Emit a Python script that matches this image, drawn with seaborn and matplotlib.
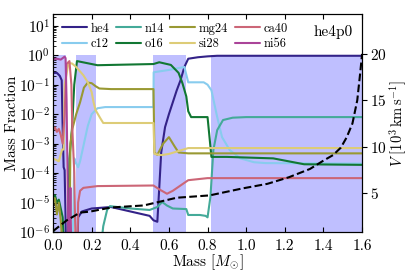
import numpy as np
import pandas as pd
import matplotlib
matplotlib.use("Agg")
import matplotlib.pyplot as plt
import seaborn as sns

# mass coordinate [M_sun] and log10(mass fraction)
he4_m = [0.0, 0.02, 0.035, 0.045, 0.05, 0.055, 0.06, 0.065, 0.068, 0.125, 0.13, 0.15, 0.2,
         0.3, 0.4, 0.5, 0.52, 0.54, 0.55, 0.56, 0.58, 0.6, 0.62, 0.64, 0.66, 0.68, 0.7,
         0.75, 0.8, 0.85, 1.6]
he4_l = [-0.6, -0.6, -0.7, -0.85, -2.5, -3.8, -3.9, -5.5, -7.0, -7.0, -5.5, -5.3, -5.2,
         -5.15, -5.3, -5.45, -5.6, -5.65, -4.5, -3.3, -2.44, -2.0, -1.6, -1.2, -0.85, -0.4,
         -0.12, -0.07, -0.04, -0.02, -0.02]

c12_m = [0.0, 0.1, 0.11, 0.115, 0.13, 0.14, 0.16, 0.18, 0.2, 0.23, 0.27, 0.52, 0.521,
         0.6, 0.68, 0.70, 0.78, 0.8, 0.82, 0.85, 0.875, 0.915, 0.97, 1.04, 1.1, 1.6]
c12_l = [-7.0, -7.0, -3.5, -3.6, -3.8, -3.6, -3.0, -2.4, -2.0, -1.8, -1.76, -1.76, -0.58,
         -0.5, -0.4, -0.92, -0.92, -1.0, -1.19, -2.1, -2.78, -3.22, -3.5, -3.63, -3.66, -3.68]

n14_m = [0.0, 0.005, 0.01, 0.24, 0.26, 0.28, 0.295, 0.4, 0.5, 0.52, 0.54, 0.565, 0.59,
         0.62, 0.69, 0.7, 0.76, 0.79, 0.80, 0.815, 0.83, 0.85, 0.88, 0.93, 1.0, 1.6]
n14_l = [-5.9, -6.1, -7.0, -7.0, -5.8, -5.25, -5.12, -5.2, -5.25, -5.2, -5.15, -4.98, -5.1,
         -5.2, -5.22, -5.42, -5.42, -5.45, -5.5, -4.8, -3.22, -2.54, -2.2, -2.12, -2.1, -2.1]

o16_m = [0.0, 0.01, 0.02, 0.03, 0.04, 0.05, 0.06, 0.075, 0.085, 0.098, 0.11, 0.124,
         0.23, 0.52, 0.55, 0.61, 0.65, 0.67, 0.69, 0.70, 0.715, 0.80, 0.82, 0.9, 1.14,
         1.3, 1.6]
o16_l = [-4.8, -4.75, -5.0, -4.9, -5.2, -5.5, -7.0, -7.0, -3.5, -2.5, -1.0, -0.2,
         -0.34, -0.3, -0.24, -0.33, -0.6, -0.95, -1.4, -1.9, -2.1, -2.1, -3.45, -3.45, -3.5,
         -3.7, -3.72]

mg24_m = [0.0, 0.01, 0.02, 0.03, 0.04, 0.05, 0.06, 0.085, 0.09, 0.1, 0.12, 0.14, 0.16,
          0.18, 0.2, 0.22, 0.24, 0.3, 0.52, 0.525, 0.54, 0.57, 0.60, 0.63, 0.65, 0.7, 1.6]
mg24_l = [-5.0, -4.85, -5.4, -5.0, -5.6, -6.5, -7.0, -7.0, -3.0, -2.5, -2.0, -1.6, -1.1,
          -0.93, -0.95, -1.05, -1.13, -1.15, -1.15, -3.3, -3.38, -3.0, -2.78, -3.1, -3.3,
          -3.33, -3.33]

si28_m = [0.0, 0.03, 0.047, 0.055, 0.06, 0.08, 0.098, 0.12, 0.157, 0.18, 0.2, 0.21,
          0.22, 0.245, 0.26, 0.52, 0.525, 0.56, 0.6, 0.65, 0.7, 1.6]
si28_l = [-3.5, -3.6, -3.2, -3.2, -1.0, -0.27, -0.28, -0.4, -0.68, -0.92, -1.25, -1.6,
          -1.86, -2.14, -2.3, -2.3, -3.35, -3.39, -3.35, -3.25, -3.15, -3.15]

ca40_m = [0.0, 0.01, 0.02, 0.03, 0.04, 0.05, 0.06, 0.07, 0.085, 0.095, 0.1, 0.11, 0.118,
          0.125, 0.13, 0.14, 0.157, 0.23, 0.52, 0.55, 0.59, 0.62, 0.66, 0.7, 0.8, 1.6]
ca40_l = [-2.55, -2.45, -2.6, -2.5, -2.7, -3.0, -2.0, -0.3, -0.2, -1.0, -2.5, -4.0, -7.0,
          -7.0, -5.0, -4.6, -4.5, -4.44, -4.42, -4.55, -4.7, -4.6, -4.42, -4.24, -4.17,
          -4.17]

ni56_m = [0.0, 0.02, 0.04, 0.06, 0.065, 0.07, 0.075, 0.08, 0.085, 0.09, 0.095, 1.6]
ni56_l = [-0.15, -0.12, -0.15, -0.05, -0.1, -1.5, -4.0, -7.0, -7.0, -4.5, -7.0, -7.0]

# velocity profile [10^3 km/s]
vel_m = [0.0, 0.07, 0.14, 0.19, 0.3, 0.47, 0.64, 0.81, 0.98, 1.11, 1.22, 1.33, 1.40,
         1.45, 1.49, 1.52, 1.55, 1.575, 1.59, 1.6]
vel_v = [0.9, 2.05, 2.9, 3.0, 3.45, 3.67, 4.5, 4.75, 5.5, 6.0, 6.7, 7.6, 8.5, 9.1, 9.9,
         11.0, 12.5, 15.0, 17.9, 20.0]

# burning regions (shaded)
span_lo = [0.0, 0.12, 0.52, 0.82]
span_hi = [0.065, 0.22, 0.69, 1.6]

species = ["he4", "c12", "n14", "o16", "mg24", "si28", "ca40", "ni56"]
colors = ["#332288", "#88CCEE", "#44AA99", "#117733",
          "#999933", "#DDCC77", "#CC6677", "#AA4499"]
profiles = {
    "he4": (he4_m, he4_l), "c12": (c12_m, c12_l), "n14": (n14_m, n14_l),
    "o16": (o16_m, o16_l), "mg24": (mg24_m, mg24_l), "si28": (si28_m, si28_l),
    "ca40": (ca40_m, ca40_l), "ni56": (ni56_m, ni56_l),
}

frames = []
for name in species:
    m, l = profiles[name]
    frames.append(pd.DataFrame({"mass": m, "X": 10.0 ** np.array(l), "species": name}))
df = pd.concat(frames, ignore_index=True)

sns.set_style("ticks")
plt.rcParams["font.family"] = "serif"
plt.rcParams["font.serif"] = ["cmr10", "DejaVu Serif"]
plt.rcParams["mathtext.fontset"] = "cm"
plt.rcParams["axes.formatter.use_mathtext"] = True
plt.rcParams["axes.unicode_minus"] = False
for key in ["text.color", "axes.labelcolor", "xtick.color", "ytick.color", "axes.edgecolor"]:
    plt.rcParams[key] = "black"

fig = plt.figure(figsize=(4.11, 2.74), dpi=100)
ax = fig.add_axes([0.129, 0.153, 0.752, 0.796])

for lo, hi in zip(span_lo, span_hi):
    ax.fill_between([lo, hi], 1e-7, 1.0, color="#0000FF", alpha=0.25, lw=0, zorder=0)

sns.lineplot(data=df, x="mass", y="X", hue="species", hue_order=species,
             palette=colors, estimator=None, sort=False, lw=1.5, ax=ax)
ax.set_yscale("log")
ax.set_xlim(0, 1.6)
ax.set_ylim(1e-6, 25)
ax.set_xlabel(r"Mass [$M_{\odot}$]", fontsize=11, labelpad=-1)
ax.set_ylabel("Mass Fraction", fontsize=11, labelpad=0)
ax.tick_params(axis="both", which="both", direction="in", top=True, labelsize=11)
ax.tick_params(axis="y", which="both", right=False, pad=2)
ax.tick_params(axis="x", pad=5.5)
ax.set_xticks([0.0, 0.2, 0.4, 0.6, 0.8, 1.0, 1.2, 1.4, 1.6])
ax.set_xticklabels(["0.0", "0.2", "0.4", "0.6", "0.8", "1.0", "1.2", "1.4", "1.6"])

ax.legend(ncol=4, loc="upper left", frameon=False, fontsize=9,
          handlelength=2.0, handletextpad=0.3, columnspacing=0.5,
          labelspacing=0.25, borderaxespad=0.3)
ax.text(0.97, 0.95, "he4p0", transform=ax.transAxes, ha="right", va="top", fontsize=11)

ax2 = ax.twinx()
sns.lineplot(x=vel_m, y=vel_v, color="black", ls="--", lw=1.5, ax=ax2)
ax2.set_ylim(0.8, 24.3)
ax2.set_yticks([5, 10, 15, 20])
ax2.tick_params(axis="y", direction="out", labelsize=11, pad=2)
ax2.set_ylabel(r"$V\ [10^3\,\mathrm{km\,s^{-1}}]$", fontsize=10.5, labelpad=1)

fig.savefig("out.png", dpi=100)
